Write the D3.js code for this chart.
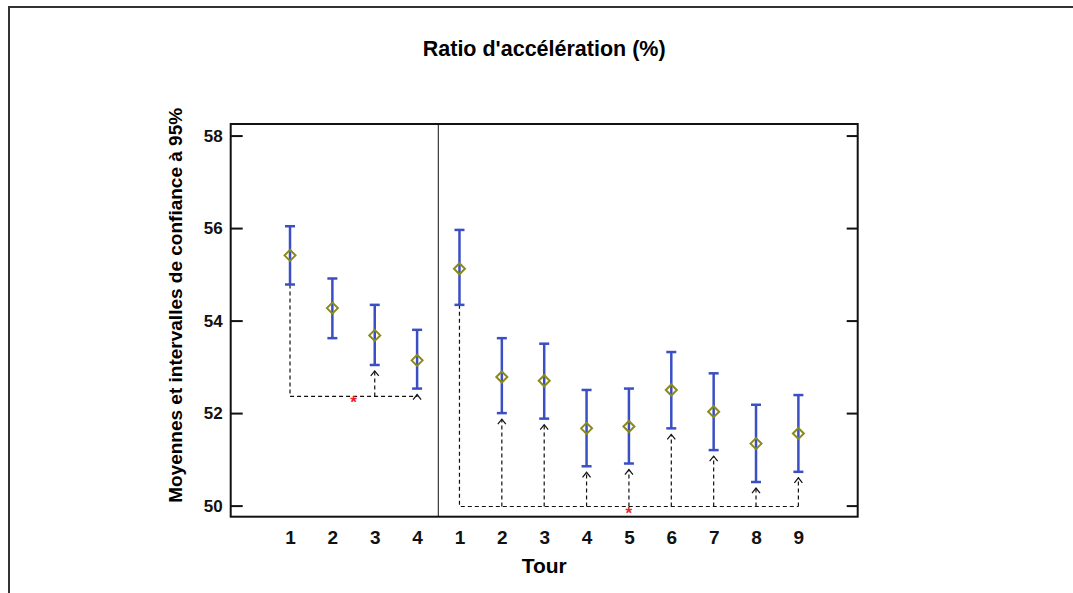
<!DOCTYPE html>
<html>
<head>
<meta charset="utf-8">
<style>
  body { margin: 0; background: #fff; }
  text { font-family: "Liberation Sans", Arial, sans-serif; font-weight: bold; }
</style>
</head>
<body>
<svg id="chart" width="1073" height="593"></svg>
<script src="https://cdn.jsdelivr.net/npm/d3@7"></script>
<script>
  // tours in two panels: 1-4, then 1-9
  const tourLabels = ["1", "2", "3", "4", "1", "2", "3", "4", "5", "6", "7", "8", "9"]
  const means = [55.41, 54.27, 53.68, 53.14, 55.12, 52.78, 52.70, 51.67, 51.71, 52.50, 52.03, 51.34, 51.56]
  const lower = [54.78, 53.62, 53.04, 52.53, 54.34, 52.00, 51.88, 50.85, 50.91, 51.67, 51.20, 50.51, 50.73]
  const upper = [56.04, 54.91, 54.34, 53.80, 55.96, 53.62, 53.50, 52.50, 52.53, 53.32, 52.86, 52.18, 52.39]

  // comparisons drawn under the bars (reference index, baseline value, compared indexes)
  const compRef = [0, 4]
  const compBase = [52.36, 49.98]
  const compTargets = [[2, 3], [5, 6, 7, 8, 9, 10, 11, 12]]
  const compEnd = [3, 12]

  const yTicks = [50, 52, 54, 56, 58]

  const svg = d3.select("#chart")
  const pLeft = 230.7, pRight = 857.7, pTop = 124, pBottom = 516.7

  const x = d3.scaleLinear().domain([-1.4, 13.4]).range([pLeft, pRight])
  const y = d3.scaleLinear().domain([49.76, 58.25]).range([pBottom, pTop])

  // outer frame
  svg.append("rect")
    .attr("x", 9).attr("y", 7).attr("width", 1100).attr("height", 620)
    .attr("fill", "none").attr("stroke", "#333").attr("stroke-width", 2)

  svg.append("text")
    .attr("x", (pLeft + pRight) / 2).attr("y", 56)
    .attr("text-anchor", "middle").style("font-size", "21.5px")
    .text("Ratio d'accélération (%)")

  // plot box
  svg.append("rect")
    .attr("x", pLeft).attr("y", pTop).attr("width", pRight - pLeft).attr("height", pBottom - pTop)
    .attr("fill", "none").attr("stroke", "#111").attr("stroke-width", 2)

  // panel divider
  svg.append("line")
    .attr("x1", x(3.5)).attr("x2", x(3.5)).attr("y1", pTop).attr("y2", pBottom)
    .attr("stroke", "#111").attr("stroke-width", 1)

  // y axes, ticks pointing inward
  const minor = d3.range(50, 58.01, 0.5)
  const yl = svg.append("g").attr("transform", `translate(${pLeft},0)`)
  yl.call(d3.axisLeft(y).tickValues(minor).tickSize(-7).tickFormat(""))
  yl.call(d3.axisLeft(y).tickValues(yTicks).tickSize(-12).tickPadding(8).tickFormat(d3.format("d")))
  yl.selectAll(".domain").remove()
  yl.selectAll("text").style("font-size", "17px").attr("fill", "#111")
  yl.selectAll("line").attr("stroke", "#111").attr("stroke-width", 2)

  const yr = svg.append("g").attr("transform", `translate(${pRight},0)`)
  yr.call(d3.axisRight(y).tickValues(minor).tickSize(-6).tickFormat(""))
  yr.call(d3.axisRight(y).tickValues(yTicks).tickSize(-11).tickFormat(""))
  yr.selectAll(".domain").remove()
  yr.selectAll("line").attr("stroke", "#111").attr("stroke-width", 2)

  // x labels (no tick marks)
  const xa = svg.append("g").attr("transform", `translate(0,${pBottom})`)
  xa.call(d3.axisBottom(x).tickValues(d3.range(tourLabels.length)).tickSize(0).tickPadding(14)
    .tickFormat(i => tourLabels[i]))
  xa.selectAll(".domain").remove()
  xa.selectAll("text").style("font-size", "19px").attr("fill", "#111")

  svg.append("text")
    .attr("x", (pLeft + pRight) / 2).attr("y", 573)
    .attr("text-anchor", "middle").style("font-size", "21px")
    .text("Tour")

  svg.append("text")
    .attr("transform", `translate(182,${(pTop + pBottom) / 2 - 15}) rotate(-90)`)
    .attr("text-anchor", "middle").style("font-size", "19px")
    .text("Moyennes et intervalles de confiance à 95%")

  // comparison lines
  const comp = svg.append("g").attr("fill", "none").attr("stroke", "#111").attr("stroke-width", 1.2)
  compRef.forEach((r, k) => {
    const yb = y(compBase[k])
    comp.append("path")
      .attr("stroke-dasharray", "4,3")
      .attr("d", `M${x(r)},${y(lower[r])}V${yb}H${x(compEnd[k])}`)
    compTargets[k].forEach(t => {
      const tip = y(lower[t]) + 6
      comp.append("path").attr("stroke-dasharray", "4,3")
        .attr("d", `M${x(t)},${yb}V${tip}`)
      comp.append("path")
        .attr("d", `M${x(t) - 4},${tip + 5}L${x(t)},${tip}L${x(t) + 4},${tip + 5}`)
    })
    svg.append("text")
      .attr("x", (x(r) + x(compEnd[k])) / 2).attr("y", yb + 12)
      .attr("text-anchor", "middle").attr("fill", "#e8212a")
      .style("font-size", "17px").text("*")
  })

  // error bars
  const bars = svg.append("g").attr("stroke", "#3a4fc4").attr("stroke-width", 2.5)
  means.forEach((m, i) => {
    const cx = x(i)
    bars.append("line").attr("x1", cx).attr("x2", cx).attr("y1", y(lower[i])).attr("y2", y(upper[i]))
    bars.append("line").attr("x1", cx - 5).attr("x2", cx + 5).attr("y1", y(lower[i])).attr("y2", y(lower[i]))
    bars.append("line").attr("x1", cx - 5).attr("x2", cx + 5).attr("y1", y(upper[i])).attr("y2", y(upper[i]))
  })

  // mean markers
  svg.append("g").selectAll("path").data(means).join("path")
    .attr("transform", (d, i) => `translate(${x(i)},${y(d)})`)
    .attr("d", "M-5.5,0L0,-5.5L5.5,0L0,5.5Z")
    .attr("fill", "none").attr("stroke", "#8a8a1a").attr("stroke-width", 2)
</script>
</body>
</html>
